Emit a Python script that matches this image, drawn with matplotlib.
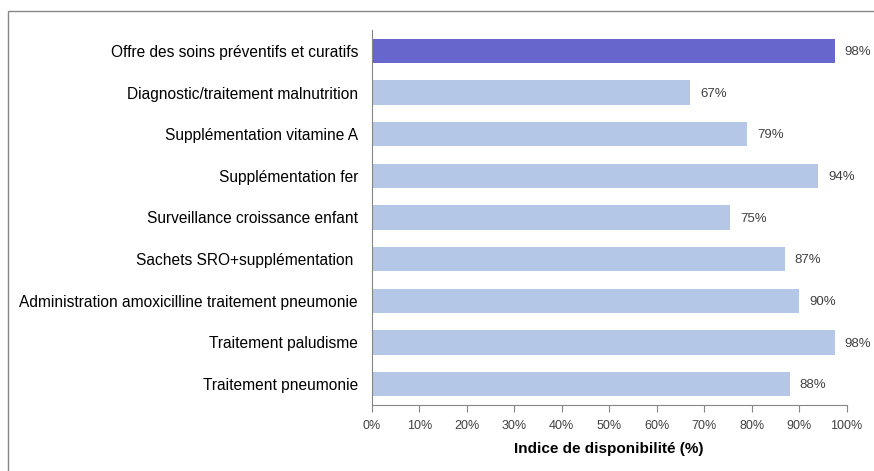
import matplotlib
matplotlib.use("Agg")
import matplotlib.pyplot as plt
from matplotlib.patches import Rectangle
import numpy as np

plt.rcParams['font.family'] = ['Liberation Sans', 'DejaVu Sans']

categories = [
    "Offre des soins préventifs et curatifs",
    "Diagnostic/traitement malnutrition",
    "Supplémentation vitamine A",
    "Supplémentation fer",
    "Surveillance croissance enfant",
    "Sachets SRO+supplémentation ",
    "Administration amoxicilline traitement pneumonie",
    "Traitement paludisme",
    "Traitement pneumonie",
]
values = [97.5, 67, 79, 94, 75.5, 87, 90, 97.5, 88]
labels = ["98%", "67%", "79%", "94%", "75%", "87%", "90%", "98%", "88%"]
colors = ["#6666CC"] + ["#B4C7E7"] * 8
xticks = list(range(0, 101, 10))

fig = plt.figure(figsize=(8.74, 4.71), dpi=100)
ax = fig.add_axes([372/874, 66/471, 474.5/874, 375/471])

y = np.arange(len(categories))
ax.barh(y, values, height=0.58, color=colors)
for yi, v, lab in zip(y, values, labels):
    ax.text(v + 2.1, yi + 0.03, lab, va='center', ha='left', fontsize=9.5, color='#404040')

ax.set_ylim(len(categories) - 0.5, -0.5)
ax.set_xlim(0, 100)
ax.set_yticks(y)
ax.set_yticklabels(categories, fontsize=11.2, color='#000000')
ax.tick_params(axis='y', length=0, pad=10)
ax.set_xticks(xticks)
ax.set_xticklabels([f"{t}%" for t in xticks], fontsize=9, color='#404040')
ax.tick_params(axis='x', length=5, color='#868686', pad=6)
ax.set_xlabel("Indice de disponibilité (%)", fontsize=11, fontweight='bold', labelpad=7)

for s in ['top', 'right']:
    ax.spines[s].set_visible(False)
for s in ['left', 'bottom']:
    ax.spines[s].set_color('#868686')
    ax.spines[s].set_linewidth(0.8)

fig.patches.append(Rectangle((8/874, -0.1), 1.0, (471 - 11)/471 + 0.1,
                             transform=fig.transFigure, fill=False,
                             edgecolor='#868686', linewidth=1))

fig.savefig("out.png", dpi=100)
